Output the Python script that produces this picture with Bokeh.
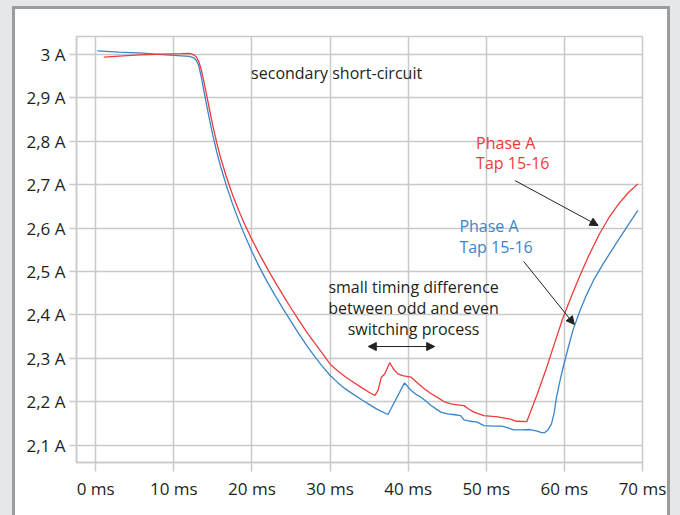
import re
from bokeh.plotting import figure
from bokeh.models import Arrow, NormalHead, Range1d, FixedTicker
from bokeh.embed import file_html
from bokeh.resources import INLINE
from bokeh.core.properties import value

# ---- data ----
t_blue = [0.2, 3.0, 6.0, 9.0, 11.0, 12.0, 12.5, 12.9, 13.2, 13.5, 13.8, 14.2, 14.6, 15.0,
          15.5, 16.0, 16.7, 17.5, 18.2, 19.0, 20.0, 21.0, 22.0, 23.0, 24.0, 25.0, 26.0,
          27.0, 28.0, 29.0, 30.0, 31.0, 32.0, 33.0, 34.0, 35.0, 36.0, 37.42, 39.54, 40.38,
          41.0, 41.65, 42.3, 42.9, 43.6, 44.2, 45.03, 46.0, 46.72, 47.15, 48.0, 48.84,
          49.69, 51.0, 52.0, 52.8, 53.5, 54.5, 55.6, 56.4, 57.09, 57.5, 57.9, 58.35, 58.7,
          58.99, 59.4, 59.84, 60.5, 61.1, 62.0, 62.8, 63.8, 64.9, 66.0, 67.0, 68.2, 69.4]
i_blue = [3.0085, 3.0055, 3.003, 2.999, 2.997, 2.9955, 2.993, 2.986, 2.974, 2.95, 2.922, 2.884,
          2.848, 2.814, 2.776, 2.742, 2.700, 2.657, 2.623, 2.587, 2.546, 2.509, 2.475, 2.444,
          2.414, 2.385, 2.357, 2.330, 2.305, 2.282, 2.261, 2.244, 2.229, 2.217, 2.205, 2.194,
          2.183, 2.1705, 2.2435, 2.226, 2.217, 2.2104, 2.201, 2.192, 2.183, 2.176, 2.172,
          2.170, 2.168, 2.158, 2.155, 2.153, 2.145, 2.144, 2.1436, 2.14, 2.135, 2.135, 2.136,
          2.133, 2.129, 2.129, 2.135, 2.149, 2.175, 2.21, 2.245, 2.2795, 2.325, 2.365, 2.41,
          2.445, 2.482, 2.516, 2.547, 2.575, 2.608, 2.641]

t_red = [1.05, 3.5, 5.7, 8.5, 11.0, 12.0, 12.5, 12.9, 13.2, 13.5, 13.8, 14.2, 14.6, 15.0,
         15.5, 16.0, 16.7, 17.5, 18.3, 19.2, 20.0, 21.0, 22.0, 23.0, 24.0, 25.0, 26.0, 27.0,
         28.0, 29.0, 30.0, 31.0, 32.0, 33.0, 34.0, 35.0, 35.73, 36.15, 36.57, 37.0, 37.63,
         38.1, 38.69, 39.3, 39.96, 40.38, 41.2, 42.07, 42.9, 43.76, 44.6, 45.45, 46.3, 47.15,
         47.7, 48.42, 49.69, 51.5, 53.07, 53.9, 55.18, 56.5, 57.7, 58.8, 59.84, 60.9, 61.9,
         63.0, 64.5, 65.7, 67.0, 68.2, 69.4]
i_red = [2.9939, 2.997, 2.9993, 3.001, 3.002, 3.0025, 3.0, 2.994, 2.984, 2.966, 2.942, 2.907,
         2.871, 2.836, 2.797, 2.762, 2.720, 2.678, 2.641, 2.604, 2.574, 2.539, 2.506, 2.475,
         2.445, 2.416, 2.388, 2.361, 2.336, 2.312, 2.287, 2.271, 2.257, 2.245, 2.233, 2.222,
         2.2143, 2.226, 2.2565, 2.264, 2.29, 2.276, 2.2643, 2.26, 2.258, 2.2565, 2.243, 2.23,
         2.219, 2.21, 2.2, 2.195, 2.193, 2.191, 2.184, 2.176, 2.168, 2.165, 2.16, 2.155, 2.154,
         2.216, 2.277, 2.338, 2.394, 2.443, 2.487, 2.532, 2.587, 2.624, 2.657, 2.682, 2.702]

x_ticks = [0, 10, 20, 30, 40, 50, 60, 70]
x_tick_labels = ["0 ms", "10 ms", "20 ms", "30 ms", "40 ms", "50 ms", "60 ms", "70 ms"]
y_ticks = [2.1, 2.2, 2.3, 2.4, 2.5, 2.6, 2.7, 2.8, 2.9, 3.0]
y_tick_labels = ["2,1 A", "2,2 A", "2,3 A", "2,4 A", "2,5 A", "2,6 A", "2,7 A", "2,8 A", "2,9 A", "3 A"]

# annotations
note_x = [19.9]
note_y = [2.9585]
note_text = ["secondary short-circuit"]
timing_x = [40.7, 40.7, 40.7]
timing_y = [2.4654, 2.417, 2.3687]
timing_text = ["small timing difference", "between odd and even", "switching process"]
red_label_x = [48.7, 48.7]
red_label_y = [2.7972, 2.749]
blue_label_x = [46.56, 46.56]
blue_label_y = [2.606, 2.5576]
label_text = ["Phase A", "Tap 15-16"]

RED = "#ee3b3b"
BLUE = "#3a86c8"
GRID = "#c9c9c9"
TXT = "#231f20"
PAGE = "#e6e7e8"
PANEL_EDGE = "#9c9c9c"

p = figure(width=658, height=510, output_backend="svg", toolbar_location=None,
           x_range=Range1d(-2.45, 70), y_range=Range1d(2.06, 3.0415),
           min_border_left=61, min_border_right=31, min_border_top=27, min_border_bottom=57,
           background_fill_color="white", border_fill_color="white")

p.styles = {"margin-left": "12px", "margin-top": "6px",
            "border-left": f"3px solid {PANEL_EDGE}", "border-top": f"3px solid {PANEL_EDGE}",
            "border-right": f"3px solid {PANEL_EDGE}", "background": "white",
            "box-shadow": f"0 0 0 60px {PAGE}"}

p.xaxis.ticker = FixedTicker(ticks=x_ticks)
p.yaxis.ticker = FixedTicker(ticks=y_ticks)
p.xaxis.major_label_overrides = {t: s for t, s in zip(x_ticks, x_tick_labels)}
p.yaxis.major_label_overrides = {t: s for t, s in zip(y_ticks, y_tick_labels)}

for ax in (p.xaxis[0], p.yaxis[0]):
    ax.major_label_text_font = "Open Sans"
    ax.major_label_text_font_size = "17px"
    ax.major_label_text_color = TXT
    ax.axis_line_color = GRID
    ax.axis_line_width = 1.5
    ax.major_tick_line_color = GRID
    ax.major_tick_line_width = 1.5
    ax.minor_tick_line_color = None
    ax.major_tick_in = 0
p.xaxis.major_tick_out = 9
p.yaxis.major_tick_out = 7
p.yaxis.major_label_standoff = 4
p.xaxis.major_label_standoff = 5

p.grid.grid_line_color = GRID
p.grid.grid_line_width = 1.5
p.outline_line_color = GRID
p.outline_line_width = 1.5

p.line(t_blue, i_blue, line_color=BLUE, line_width=1.3)
p.line(t_red, i_red, line_color=RED, line_width=1.3)

p.text(note_x, note_y, text=note_text, text_font=value("Open Sans"), text_font_size="16px",
       text_color=TXT, text_align="left", text_baseline="middle")
p.text(timing_x, timing_y, text=timing_text, text_font=value("Open Sans"), text_font_size="16px",
       text_color=TXT, text_align="center", text_baseline="middle")
p.text(red_label_x, red_label_y, text=label_text, text_font=value("Open Sans"), text_font_size="16px",
       text_color=RED, text_align="left", text_baseline="middle")
p.text(blue_label_x, blue_label_y, text=label_text, text_font=value("Open Sans"), text_font_size="16px",
       text_color=BLUE, text_align="left", text_baseline="middle")

# arrows
def head():
    return NormalHead(size=8, fill_color="#222222", line_color="#222222")

p.add_layout(Arrow(start=head(), end=head(),
                   x_start=34.9, y_start=2.3272, x_end=43.4, y_end=2.3272,
                   line_color="#222222", line_width=1))
p.add_layout(Arrow(end=head(), x_start=53.66, y_start=2.7097, x_end=64.32, y_end=2.606,
                   line_color="#222222", line_width=1))
p.add_layout(Arrow(end=head(), x_start=54.8, y_start=2.523, x_end=61.27, y_end=2.378,
                   line_color="#222222", line_width=1))

html = file_html(p, INLINE, title="Phase A Tap 15-16")
css = f"<style>html, body {{ background: {PAGE} !important; margin: 0 !important; overflow: hidden; }}</style>"
html = re.sub(r"</head>", css + "</head>", html, count=1, flags=re.I)
open("out.html", "w").write(html)
